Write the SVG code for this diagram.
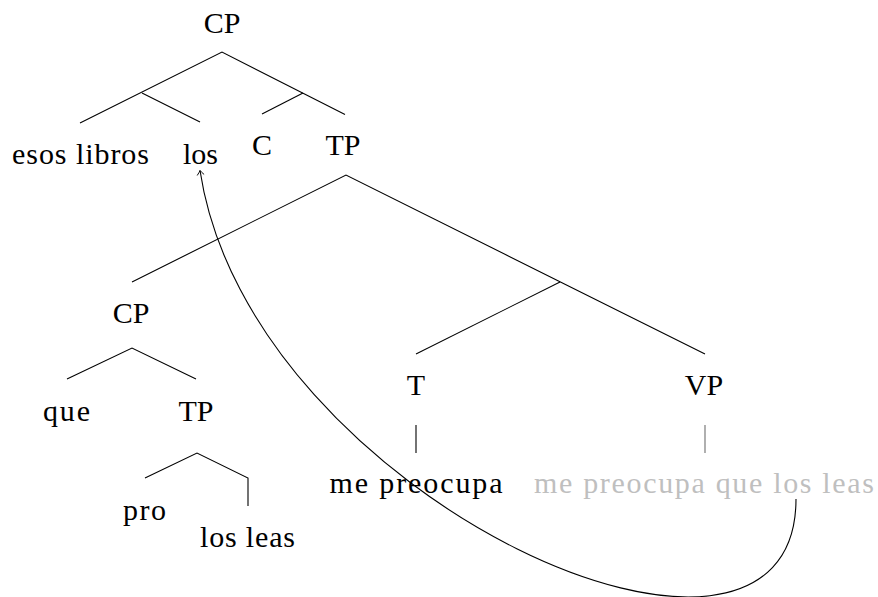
<svg xmlns="http://www.w3.org/2000/svg" width="878" height="597" viewBox="0 0 878 597">
<style>
text{font-family:"Liberation Serif","Tinos","Times New Roman",serif;font-size:30px;fill:#000}
.g{fill:#bfbfbf}
.e{stroke:#000;stroke-width:1.1;fill:none;stroke-linecap:butt}
.eg{stroke:#6e6e6e;stroke-width:1.1;fill:none}
</style>
<defs>
<marker id="ah" viewBox="-6 -5 8 10" markerWidth="8" markerHeight="10" refX="0" refY="0" orient="auto" markerUnits="userSpaceOnUse">
<path d="M-4.5,-3.5 Q-1.5,-0.8 0,0 Q-1.5,0.8 -4.5,3.5" fill="none" stroke="#000" stroke-width="0.9"/>
</marker>
</defs>
<rect width="878" height="597" fill="#fff"/>
<g id="connectors">
<path class="e" d="M80,123 L222,52 L345,114.5"/>
<path class="e" d="M142,93 L200,122"/>
<path class="e" d="M303,93 L262,114"/>
<path class="e" d="M132,282 L346,175 L705,354"/>
<path class="e" d="M560,282 L416,354"/>
<path class="e" d="M67,379 L132,348 L196,379"/>
<path class="e" d="M145,478 L197,453 L248,478 L248,506"/>
<path class="e" d="M416,425 L416,453"/>
<path class="eg" d="M705,425 L705,453"/>
<path class="e" d="M796,499 C796,740 250,500 200,170.5" marker-end="url(#ah)"/>
</g>
<g id="cp-top"><text x="222" y="33" text-anchor="middle">CP</text></g>
<g id="esos-libros"><text x="12" y="164" textLength="137">esos libros</text></g>
<g id="los"><text x="200.5" y="164" text-anchor="middle">los</text></g>
<g id="c"><text x="262" y="155" text-anchor="middle">C</text></g>
<g id="tp-top"><text x="343" y="155" text-anchor="middle">TP</text></g>
<g id="cp-low"><text x="131" y="323" text-anchor="middle">CP</text></g>
<g id="que"><text x="43" y="421" textLength="47">que</text></g>
<g id="tp-low"><text x="196" y="421" text-anchor="middle">TP</text></g>
<g id="pro"><text x="123" y="520" textLength="43">pro</text></g>
<g id="los-leas"><text x="200" y="546.5" textLength="95">los leas</text></g>
<g id="t"><text x="416" y="395" text-anchor="middle">T</text></g>
<g id="me-preocupa"><text x="329.5" y="493" textLength="173">me preocupa</text></g>
<g id="vp"><text x="704" y="395" text-anchor="middle">VP</text></g>
<g id="vp-text"><text class="g" x="534" y="493" textLength="340">me preocupa que los leas</text></g>
</svg>
